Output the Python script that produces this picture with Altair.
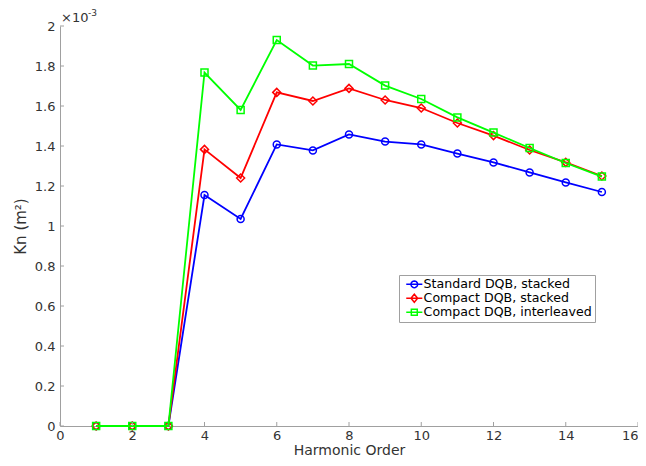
import math
import altair as alt
import pandas as pd

# ---- data (values in units of 1e-3 m^2) ----
harmonic = list(range(1, 16))
standard_stacked = [0, 0, 0, 1.155, 1.035, 1.408, 1.378, 1.458, 1.422, 1.408, 1.362, 1.318, 1.268, 1.218, 1.170]
compact_stacked = [0, 0, 0, 1.383, 1.240, 1.668, 1.625, 1.688, 1.630, 1.590, 1.515, 1.452, 1.380, 1.318, 1.250]
compact_interleaved = [0, 0, 0, 1.767, 1.580, 1.930, 1.802, 1.810, 1.702, 1.635, 1.543, 1.467, 1.390, 1.315, 1.247]

series_names = ["Standard DQB, stacked", "Compact DQB, stacked", "Compact DQB, interleaved"]
series_colors = ["#0000ff", "#ff0000", "#00ff00"]
series_shapes = ["circle", "diamond", "square"]
series_sizes = [49, 64, 49]

# legend glyphs: a short line with the marker on it (polygonal circle, no arcs)
_circ = "M" + "L".join(
    f"{0.95 * math.cos(2 * math.pi * k / 20):.3f},{0.95 * math.sin(2 * math.pi * k / 20):.3f}"
    for k in range(20)) + "Z"
legend_paths = [
    "M-2.3,0L2.3,0" + _circ,
    "M-2.3,0L2.3,0M-0.95,0L0,-1.15L0.95,0L0,1.15Z",
    "M-2.3,0L2.3,0M-0.85,-0.85L0.85,-0.85L0.85,0.85L-0.85,0.85Z",
]

x_ticks = [0, 2, 4, 6, 8, 10, 12, 14, 16]
y_ticks = [0, 0.2, 0.4, 0.6, 0.8, 1.0, 1.2, 1.4, 1.6, 1.8, 2.0]

FONT = "DejaVu Sans"
W, H = 578, 400

rows = []
for name, vals in zip(series_names, [standard_stacked, compact_stacked, compact_interleaved]):
    for h, v in zip(harmonic, vals):
        rows.append({"harmonic": h, "kn": v, "series": name})
df = pd.DataFrame(rows)

x_scale = alt.Scale(domain=[0, 16], nice=False, zero=False)
y_scale = alt.Scale(domain=[0, 2], nice=False, zero=False)

x_axis = alt.Axis(values=x_ticks, title="Harmonic Order", grid=False, tickSize=0,
                  labelOverlap=False, labelFlush=False,
                  labelAlign=alt.condition("datum.value == 16", alt.value("right"), alt.value("center")),
                  labelFont=FONT, labelFontSize=13, labelColor="#333333",
                  labelPadding=3, domainColor="#a0a0a0",
                  titleFont=FONT, titleFontSize=14, titleFontWeight="normal",
                  titleColor="#333333", titleBaseline="middle", titleY=24)
y_axis = alt.Axis(values=y_ticks, title="Kn (m²)", grid=False, tickSize=0, format="~g",
                  labelOverlap=False, labelFlush=False,
                  labelFont=FONT, labelFontSize=13, labelColor="#333333",
                  labelPadding=5, domainColor="#a0a0a0",
                  titleFont=FONT, titleFontSize=15, titleFontWeight="normal",
                  titleColor="#333333", titleBaseline="middle", titleX=-40)

x_enc = alt.X("harmonic:Q", scale=x_scale, axis=x_axis)
y_enc = alt.Y("kn:Q", scale=y_scale, axis=y_axis)

base = alt.Chart(df)
layers = []
for name, color, shape, size in zip(series_names, series_colors, series_shapes, series_sizes):
    sub = base.transform_filter(alt.datum.series == name)
    layers.append(sub.mark_line(color=color, strokeWidth=1.8).encode(x=x_enc, y=y_enc))
    layers.append(sub.mark_point(shape=shape, size=size, color=color, filled=False,
                                 strokeWidth=1.5, opacity=1).encode(x=x_enc, y=y_enc))

legend_layer = base.transform_filter("false").mark_point(filled=False, strokeWidth=1.5, opacity=1, size=49).encode(
    x=x_enc, y=y_enc,
    color=alt.Color("series:N", scale=alt.Scale(domain=series_names, range=series_colors),
                    legend=alt.Legend(title=None)),
    shape=alt.Shape("series:N", scale=alt.Scale(domain=series_names, range=legend_paths),
                    legend=alt.Legend(title=None)),
)

xt = alt.Chart(pd.DataFrame({"t": x_ticks})).mark_rule(color="#a0a0a0", strokeWidth=1).encode(
    x=alt.X("t:Q", scale=x_scale, axis=x_axis),
    y=alt.value(H), y2=alt.value(H - 4))
yt = alt.Chart(pd.DataFrame({"t": y_ticks})).mark_rule(color="#a0a0a0", strokeWidth=1).encode(
    y=alt.Y("t:Q", scale=y_scale, axis=y_axis),
    x=alt.value(0), x2=alt.value(4))

exp_base = alt.Chart(pd.DataFrame({"t": ["×10"]})).mark_text(
    font=FONT, fontSize=13, color="#333333", align="left", baseline="middle").encode(
    text="t:N", x=alt.value(1), y=alt.value(-8))
exp_sup = alt.Chart(pd.DataFrame({"t": ["-3"]})).mark_text(
    font=FONT, fontSize=9, color="#333333", align="left", baseline="middle").encode(
    text="t:N", x=alt.value(28), y=alt.value(-13))

chart = alt.layer(*layers, legend_layer, xt, yt, exp_base, exp_sup).properties(
    width=W, height=H,
    autosize=alt.AutoSizeParams(type="none"),
    padding={"left": 52, "top": 18, "right": 0, "bottom": 32},
).configure_view(stroke=None).configure_legend(
    orient="none", legendX=339, legendY=249,
    fillColor="white", strokeColor="#a0a0a0", padding=3,
    labelFont=FONT, labelFontSize=12.6, labelColor="#000000", labelLimit=300,
    symbolSize=49, symbolStrokeWidth=1.5, rowPadding=0, labelOffset=3, symbolOffset=6,
)

chart.save("out.html", embed_options={"renderer": "svg", "actions": False})
